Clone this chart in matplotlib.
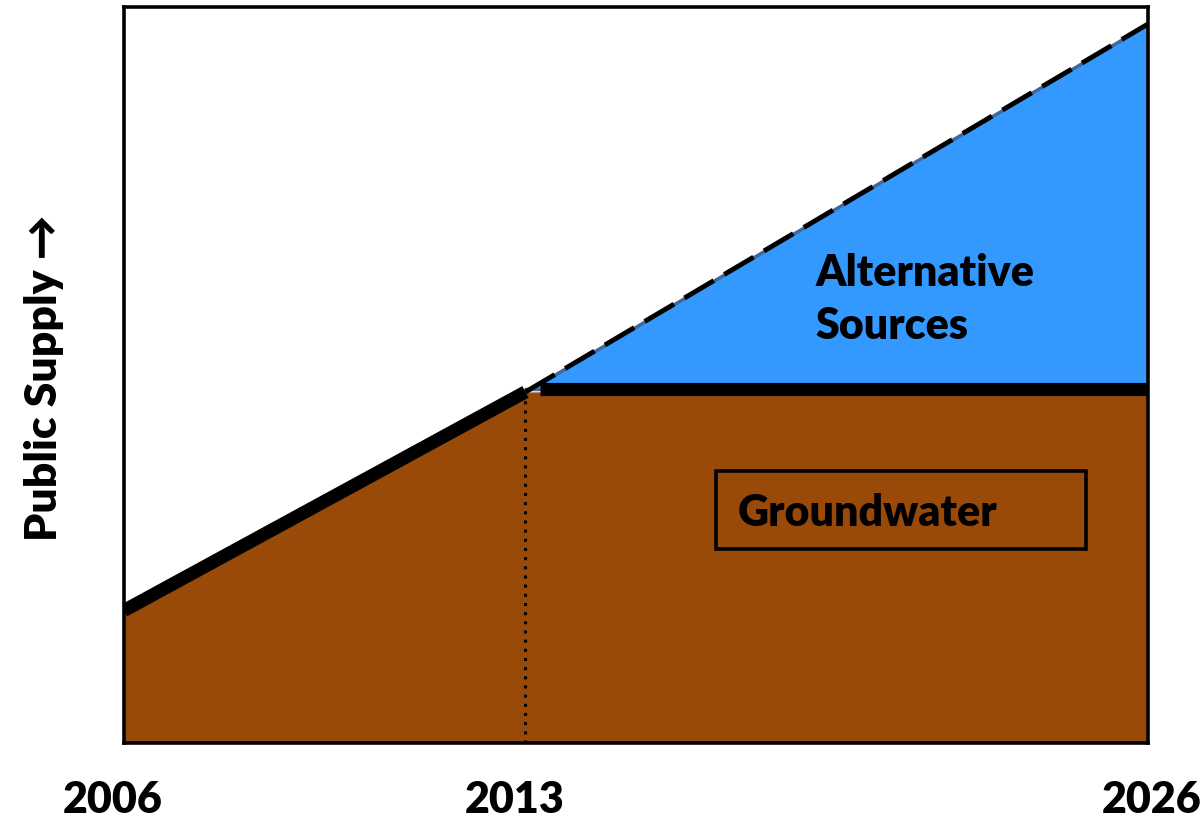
import matplotlib.pyplot as plt
import matplotlib.patches as mpatches
import numpy as np

# milestones on the x axis (positions are fractions of the plot width)
years = ["2006", "2013", "2026"]
x_pos = [0.0, 0.392, 1.0]
# projected public supply demand at each milestone (fraction of axis height)
demand = [0.18, 0.477, 0.977]
# groundwater stays capped after 2013
gw_cap = 0.481

BROWN = "#9a4a08"
BLUE = "#3399ff"
EDGE = "#41689a"
WEIGHT = "heavy"

plt.rcParams['font.family'] = ['Lato', 'DejaVu Sans']

fig = plt.figure(figsize=(12.03, 8.2), dpi=100)
ax = fig.add_axes([0.1031, 0.0927, 0.8512, 0.8975])
ax.set_xlim(0, 1)
ax.set_ylim(0, 1)

x = np.array(x_pos)
d = np.array(demand)
gw = np.minimum(d, gw_cap)

# groundwater (brown) and alternative sources (blue)
ax.fill_between(x, 0, gw, color=BROWN, lw=0, zorder=1)
ax.plot([x[0], x[0]], [0, d[0]], color=EDGE, lw=1.5, zorder=1.5)
ax.fill_between(x, gw_cap, d, where=d >= gw_cap - 0.01, interpolate=True,
                facecolor=BLUE, edgecolor=EDGE, lw=2.5, zorder=1)

# actual supply so far, then projected
ax.plot(x[:2], d[:2], color="black", lw=9.5, solid_capstyle="butt", zorder=3)
ax.plot(x[1:], d[1:], color="black", lw=3.5, dashes=(7, 2.5), zorder=3)
ax.plot([0.406, 1.0], [gw_cap, gw_cap], color="black", lw=9.5,
        solid_capstyle="butt", zorder=3)
ax.plot([x[1], x[1]], [0, d[1] - 0.01], color="black", lw=2.2,
        linestyle=(0, (1, 2)), zorder=2)

# labels inside the chart
ax.text(0.675, 0.604, "Alternative\nSources", fontsize=31, fontweight=WEIGHT,
        ha="left", va="center", linespacing=1.4, zorder=4)
ax.add_patch(mpatches.Rectangle((0.578, 0.263), 0.361, 0.106, fill=False,
                                edgecolor="black", lw=2.6, zorder=4))
ax.text(0.599, 0.314, "Groundwater", fontsize=31, fontweight=WEIGHT,
        ha="left", va="center", zorder=4)

ax.set_xticks([])
ax.set_yticks([])
for s in ax.spines.values():
    s.set_linewidth(2.6)
    s.set_zorder(5)

for xp, yr in zip(x_pos, years):
    ax.text(xp - 0.011 if xp < 1 else xp + 0.004, -0.076, yr, fontsize=31,
            fontweight=WEIGHT, ha="center", va="center",
            transform=ax.transAxes)

ax.set_ylabel("Public Supply \u2192", fontsize=32, fontweight=WEIGHT)
ax.yaxis.set_label_coords(-0.059, 0.497)

fig.savefig("out.png", dpi=100)
